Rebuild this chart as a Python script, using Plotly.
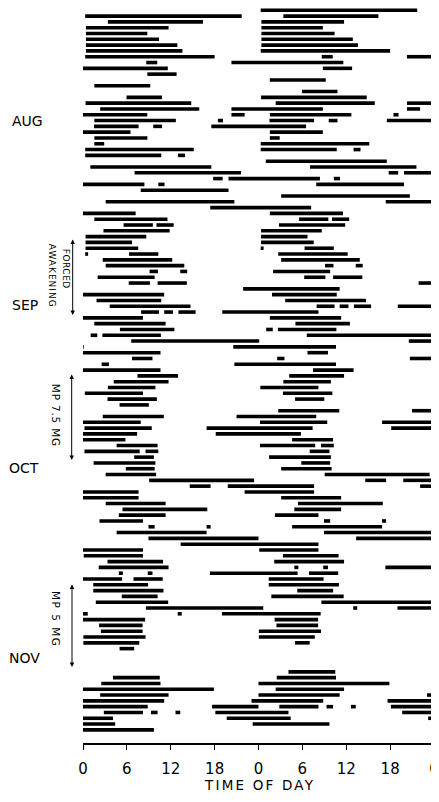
import plotly.graph_objects as go

# Sleep episodes: day index, onset hour (within that day), offset hour (same day reference, may exceed 24)
sleep_day = [1, 2, 3, 4, 5, 6, 7, 8, 9, 9, 11, 13, 15, 16, 17, 17, 18, 19, 19, 20, 20, 20,
             22, 23, 24, 25, 25, 27, 28, 29, 29, 30, 31, 33, 34, 36, 37, 37, 38, 39, 40, 41,
             42, 42, 43, 44, 45, 45, 46, 47, 47, 48, 50, 51, 52, 52, 52, 52, 54, 55, 56, 56,
             57, 58, 60, 61, 61, 63, 64, 65, 66, 67, 68, 70, 70, 72, 72, 73, 75, 76, 76, 77,
             78, 79, 80, 81, 82, 82, 83, 85, 86, 87, 88, 89, 89, 90, 91, 92, 94, 95, 96, 97,
             97, 97, 98, 99, 100, 101, 102, 103, 104, 104, 106, 107, 108, 109, 110, 115, 116,
             117, 118, 119, 119, 120, 121, 121, 121, 121, 122, 123]
sleep_onset = [0.3, 3.4, 0.4, 0.4, 0.4, 0.4, 0.4, 0.3, 8.65, 20.3, 8.8, 1.55, 5.95, 0.35, 2.35,
               20.3, 20.3, 1.55, 18.45, 1.5, 9.6, 17.55, 1.55, 1.55, 0.3, 0.3, 13.0, 1.0, 7.05,
               17.8, 19.9, 10.3, 7.9, 3.1, 17.4, 1.55, 5.55, 10.05, 2.8, 0.35, 0.35, 0.35, 0.3,
               6.3, 2.7, 3.1, 9.1, 13.3, 2.0, 6.25, 10.2, 21.9, 1.85, 3.65, 7.95, 11.1, 13.05,
               19.05, 1.55, 5.05, 1.05, 2.65, 6.6, 20.55, 6.7, 2.55, 20.7, 7.45, 4.2, 3.4, 0.25,
               3.35, 5.0, 2.7, 21.0, 0.2, 16.9, 18.15, 4.6, 0.2, 8.55, 7.0, 1.45, 5.85, 3.1, 9.05,
               14.6, 19.8, 22.1, 3.1, 5.4, 4.9, 2.25, 8.95, 16.9, 4.6, 8.95, 13.35, 0.1, 3.35,
               2.15, 4.9, 8.85, 17.35, 6.9, 1.4, 1.4, 5.3, 1.75, 8.6, 12.95, 19.0, 2.2, 2.45, 0.05,
               0.05, 5.0, 4.1, 2.5, 0.0, 2.35, 0.0, 23.05, 17.65, 2.85, 9.3, 12.65, 18.1, 19.65,
               23.2]
sleep_offset = [21.7, 16.4, 11.7, 8.8, 10.4, 12.9, 13.6, 18.0, 10.15, 35.6, 12.8, 9.2, 10.8, 14.8,
                15.9, 32.8, 22.1, 12.7, 19.15, 7.6, 10.8, 30.5, 8.8, 2.9, 15.15, 10.7, 13.95, 17.55,
                21.6, 19.1, 32.4, 11.15, 19.9, 20.7, 31.2, 11.55, 9.55, 12.4, 11.85, 8.65, 6.7, 7.55,
                0.7, 10.3, 12.2, 13.85, 10.25, 14.25, 9.8, 9.15, 14.2, 35.1, 10.7, 14.7, 10.4, 12.3,
                15.4, 32.2, 11.3, 12.5, 1.95, 10.65, 24.1, 34.6, 9.5, 3.55, 34.6, 13.0, 11.7, 9.9,
                8.2, 10.1, 9.0, 11.05, 31.9, 9.4, 31.4, 29.8, 10.2, 7.75, 10.3, 9.7, 9.9, 9.8, 10.0,
                23.4, 17.45, 31.6, 31.6, 11.3, 17.0, 11.3, 8.2, 9.8, 17.45, 16.9, 24.0, 32.2, 8.2,
                10.95, 11.7, 5.45, 9.5, 29.35, 10.9, 8.9, 11.0, 10.2, 11.65, 24.65, 13.5, 32.5, 8.15,
                8.15, 8.55, 7.7, 7.0, 10.5, 10.6, 17.9, 11.7, 11.1, 32.85, 24.0, 8.2, 10.2, 13.3,
                28.1, 28.4, 33.7]

n_rows = 125
tick_vals = [0, 6, 12, 18, 24, 30, 36, 42, 48]
tick_text = ["0", "6", "12", "18", "0", "6", "12", "18", "0"]
month_labels = ["AUG", "SEP", "OCT", "NOV"]

# double-plotted actogram: row r shows hours [24r, 24r+48)
xs, ys = [], []
for r in range(n_rows):
    lo, hi = 24 * r, 24 * r + 48
    for d, s, e in zip(sleep_day, sleep_onset, sleep_offset):
        a, b = 24 * d + s, 24 * d + e
        if b > lo and a < hi:
            xs += [max(a, lo) - lo, min(b, hi) - lo, None]
            ys += [-r, -r, None]

fig = go.Figure()
fig.add_trace(go.Scatter(x=xs, y=ys, mode="lines",
                         line=dict(color="black", width=3.6),
                         hoverinfo="skip", showlegend=False))

OFF = 8  # default page body margin
W, H = 439 - OFF, 802 - 2 * OFF
L, R, T = 83 - OFF, 5, 0
B = H - (743 - OFF)
PH = H - T - B
PW = W - L - R


def px(xp):
    return (xp - OFF - L) / PW


def py(yp):
    return 1 - (yp - OFF - T) / PH


row_px = 5.803
top_val = (10.3 - OFF) / row_px

fig.update_layout(
    width=W, height=H,
    margin=dict(l=L, r=R, t=T, b=B),
    plot_bgcolor="white", paper_bgcolor="white",
    xaxis=dict(range=[0, 48], tickvals=tick_vals, ticktext=tick_text,
               showgrid=False, zeroline=False, showline=True,
               linecolor="black", linewidth=1.5, ticks="outside",
               ticklen=5, tickwidth=1.2, tickcolor="black",
               ticklabelstandoff=6, automargin=False,
               tickfont=dict(family="Liberation Sans Narrow, DejaVu Sans", size=15, color="black")),
    yaxis=dict(range=[top_val - PH / row_px, top_val], visible=False),
)

month_pos = [(27, 120.5), (25, 304.5), (24, 468), (24, 658)]
for lab, (mx, my) in zip(month_labels, month_pos):
    fig.add_annotation(text=lab, xref="paper", yref="paper", x=px(mx), y=py(my),
                       showarrow=False, xanchor="center", yanchor="middle",
                       font=dict(family="DejaVu Sans", size=14, color="black"))

side_texts = [("FORCED", 66.7, 268.5, 9, 0.5), ("AWAKENING", 52.2, 276, 9, 1),
              ("MP 7.5 MG", 56.2, 415, 10.5, 0.8), ("MP 5 MG", 56, 619, 10.5, 1.5)]
for txt, tx, ty, fs, sp in side_texts:
    fig.add_annotation(text=f'<span style="letter-spacing:{sp}px">{txt}</span>',
                       xref="paper", yref="paper", x=px(tx), y=py(ty),
                       showarrow=False, textangle=90, xanchor="center", yanchor="middle",
                       font=dict(family="DejaVu Sans", size=fs, color="black"))

arrows = [(72.7, 238, 315), (71.7, 373, 460), (72, 583, 667)]
for axp, y0, y1 in arrows:
    fig.add_annotation(text="", xref="paper", yref="paper", x=px(axp), y=py(y1),
                       ax=0, ay=-(y1 - y0), showarrow=True, arrowhead=2,
                       arrowside="end+start", arrowsize=0.9, arrowwidth=1,
                       arrowcolor="black", standoff=0, startstandoff=0)

fig.add_annotation(text='<span style="letter-spacing:2.2px">TIME OF DAY</span>',
                   xref="paper", yref="paper", x=px(259), y=py(785),
                   showarrow=False, xanchor="center", yanchor="middle",
                   font=dict(family="DejaVu Sans", size=13.5, color="black"))

fig.write_html("out.html")
